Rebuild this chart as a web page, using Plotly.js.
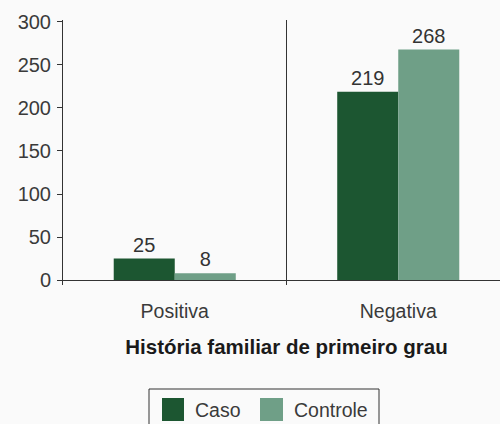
<!DOCTYPE html>
<html>
<head>
<meta charset="utf-8">
<script src="https://cdn.plot.ly/plotly-3.0.1.min.js"></script>
<style>html,body{margin:0;padding:0;background:#fafafa;overflow:hidden;}#chart{width:510px;height:424px;}</style>
</head>
<body>
<div id="chart"></div>
<script>
const categories = ["Positiva", "Negativa"];
const seriesNames = ["Caso", "Controle"];
const casoValues = [25, 219];
const controleValues = [8, 268];
const yTickValues = [0, 50, 100, 150, 200, 250, 300];
const xAxisTitle = "História familiar de primeiro grau";

const colors = ["#1c5631", "#6f9f87"];
const numFont = {family: "Liberation Sans, Arial, sans-serif", size: 20, color: "#3a3a3a"};
const wordFont = {family: "Liberation Sans, Arial, sans-serif", size: 19.5, color: "#3a3a3a"};

// plot-area geometry helpers (pixels -> paper)
const W = 510, H = 424;
const L = 63, R = 510, T = 20, B = 285;
const px = x => (x - L) / (R - L);
const py = y => (B - y) / (B - T);

const traces = [
  {type: "bar", name: seriesNames[0], x: categories, y: casoValues,
   marker: {color: colors[0]}, text: casoValues.map(String), textposition: "outside",
   textfont: {family: numFont.family, size: 20, color: "#333"}, cliponaxis: false, hoverinfo: "none"},
  {type: "bar", name: seriesNames[1], x: categories, y: controleValues,
   marker: {color: colors[1]}, text: controleValues.map(String), textposition: "outside",
   textfont: {family: numFont.family, size: 20, color: "#333"}, cliponaxis: false, hoverinfo: "none"}
];

const shapes = [
  {type: "line", xref: "x", yref: "paper", x0: 0.5, x1: 0.5, y0: 0, y1: 1, line: {color: "#333", width: 1}},
  {type: "rect", xref: "paper", yref: "paper", x0: px(149), x1: px(379), y0: py(389), y1: py(440),
   line: {color: "#333", width: 1}, fillcolor: "rgba(0,0,0,0)"},
  {type: "rect", xref: "paper", yref: "paper", x0: px(162), x1: px(184), y0: py(398), y1: py(421),
   line: {width: 0}, fillcolor: colors[0]},
  {type: "rect", xref: "paper", yref: "paper", x0: px(260), x1: px(283), y0: py(398), y1: py(421),
   line: {width: 0}, fillcolor: colors[1]}
];

const annotations = [
  {xref: "paper", yref: "paper", x: px(193), y: py(410), xanchor: "left", yanchor: "middle",
   text: seriesNames[0], showarrow: false, font: wordFont},
  {xref: "paper", yref: "paper", x: px(292), y: py(410), xanchor: "left", yanchor: "middle",
   text: seriesNames[1], showarrow: false, font: wordFont}
];

const layout = {
  width: W, height: H,
  margin: {l: L, r: W - R, t: T, b: H - B, pad: 0},
  paper_bgcolor: "#fafafa", plot_bgcolor: "rgba(0,0,0,0)",
  showlegend: false,
  barmode: "group", bargap: 0.454, bargroupgap: 0,
  xaxis: {type: "category", range: [-0.5, 1.5], showline: false, ticks: "", showgrid: false,
          zeroline: false, tickfont: wordFont, ticklabelstandoff: 12, fixedrange: true,
          title: {text: "<b>" + xAxisTitle + "</b>", font: {family: "Liberation Sans, Arial, sans-serif", size: 20.5, color: "#1a1a1a"}, standoff: 19}},
  yaxis: {range: [-5.8, 302.3], tickvals: yTickValues, ticktext: yTickValues.map(String),
          showline: true, linecolor: "#333", linewidth: 1, ticks: "outside", ticklen: 5,
          tickcolor: "#333", tickwidth: 1, showgrid: false, zeroline: true, zerolinecolor: "#333",
          zerolinewidth: 1, tickfont: numFont, ticklabelstandoff: 2, fixedrange: true},
  shapes: shapes,
  annotations: annotations,
  font: {family: "Liberation Sans, Arial, sans-serif"}
};

Plotly.newPlot("chart", traces, layout, {staticPlot: true, displayModeBar: false});
</script>
</body>
</html>
